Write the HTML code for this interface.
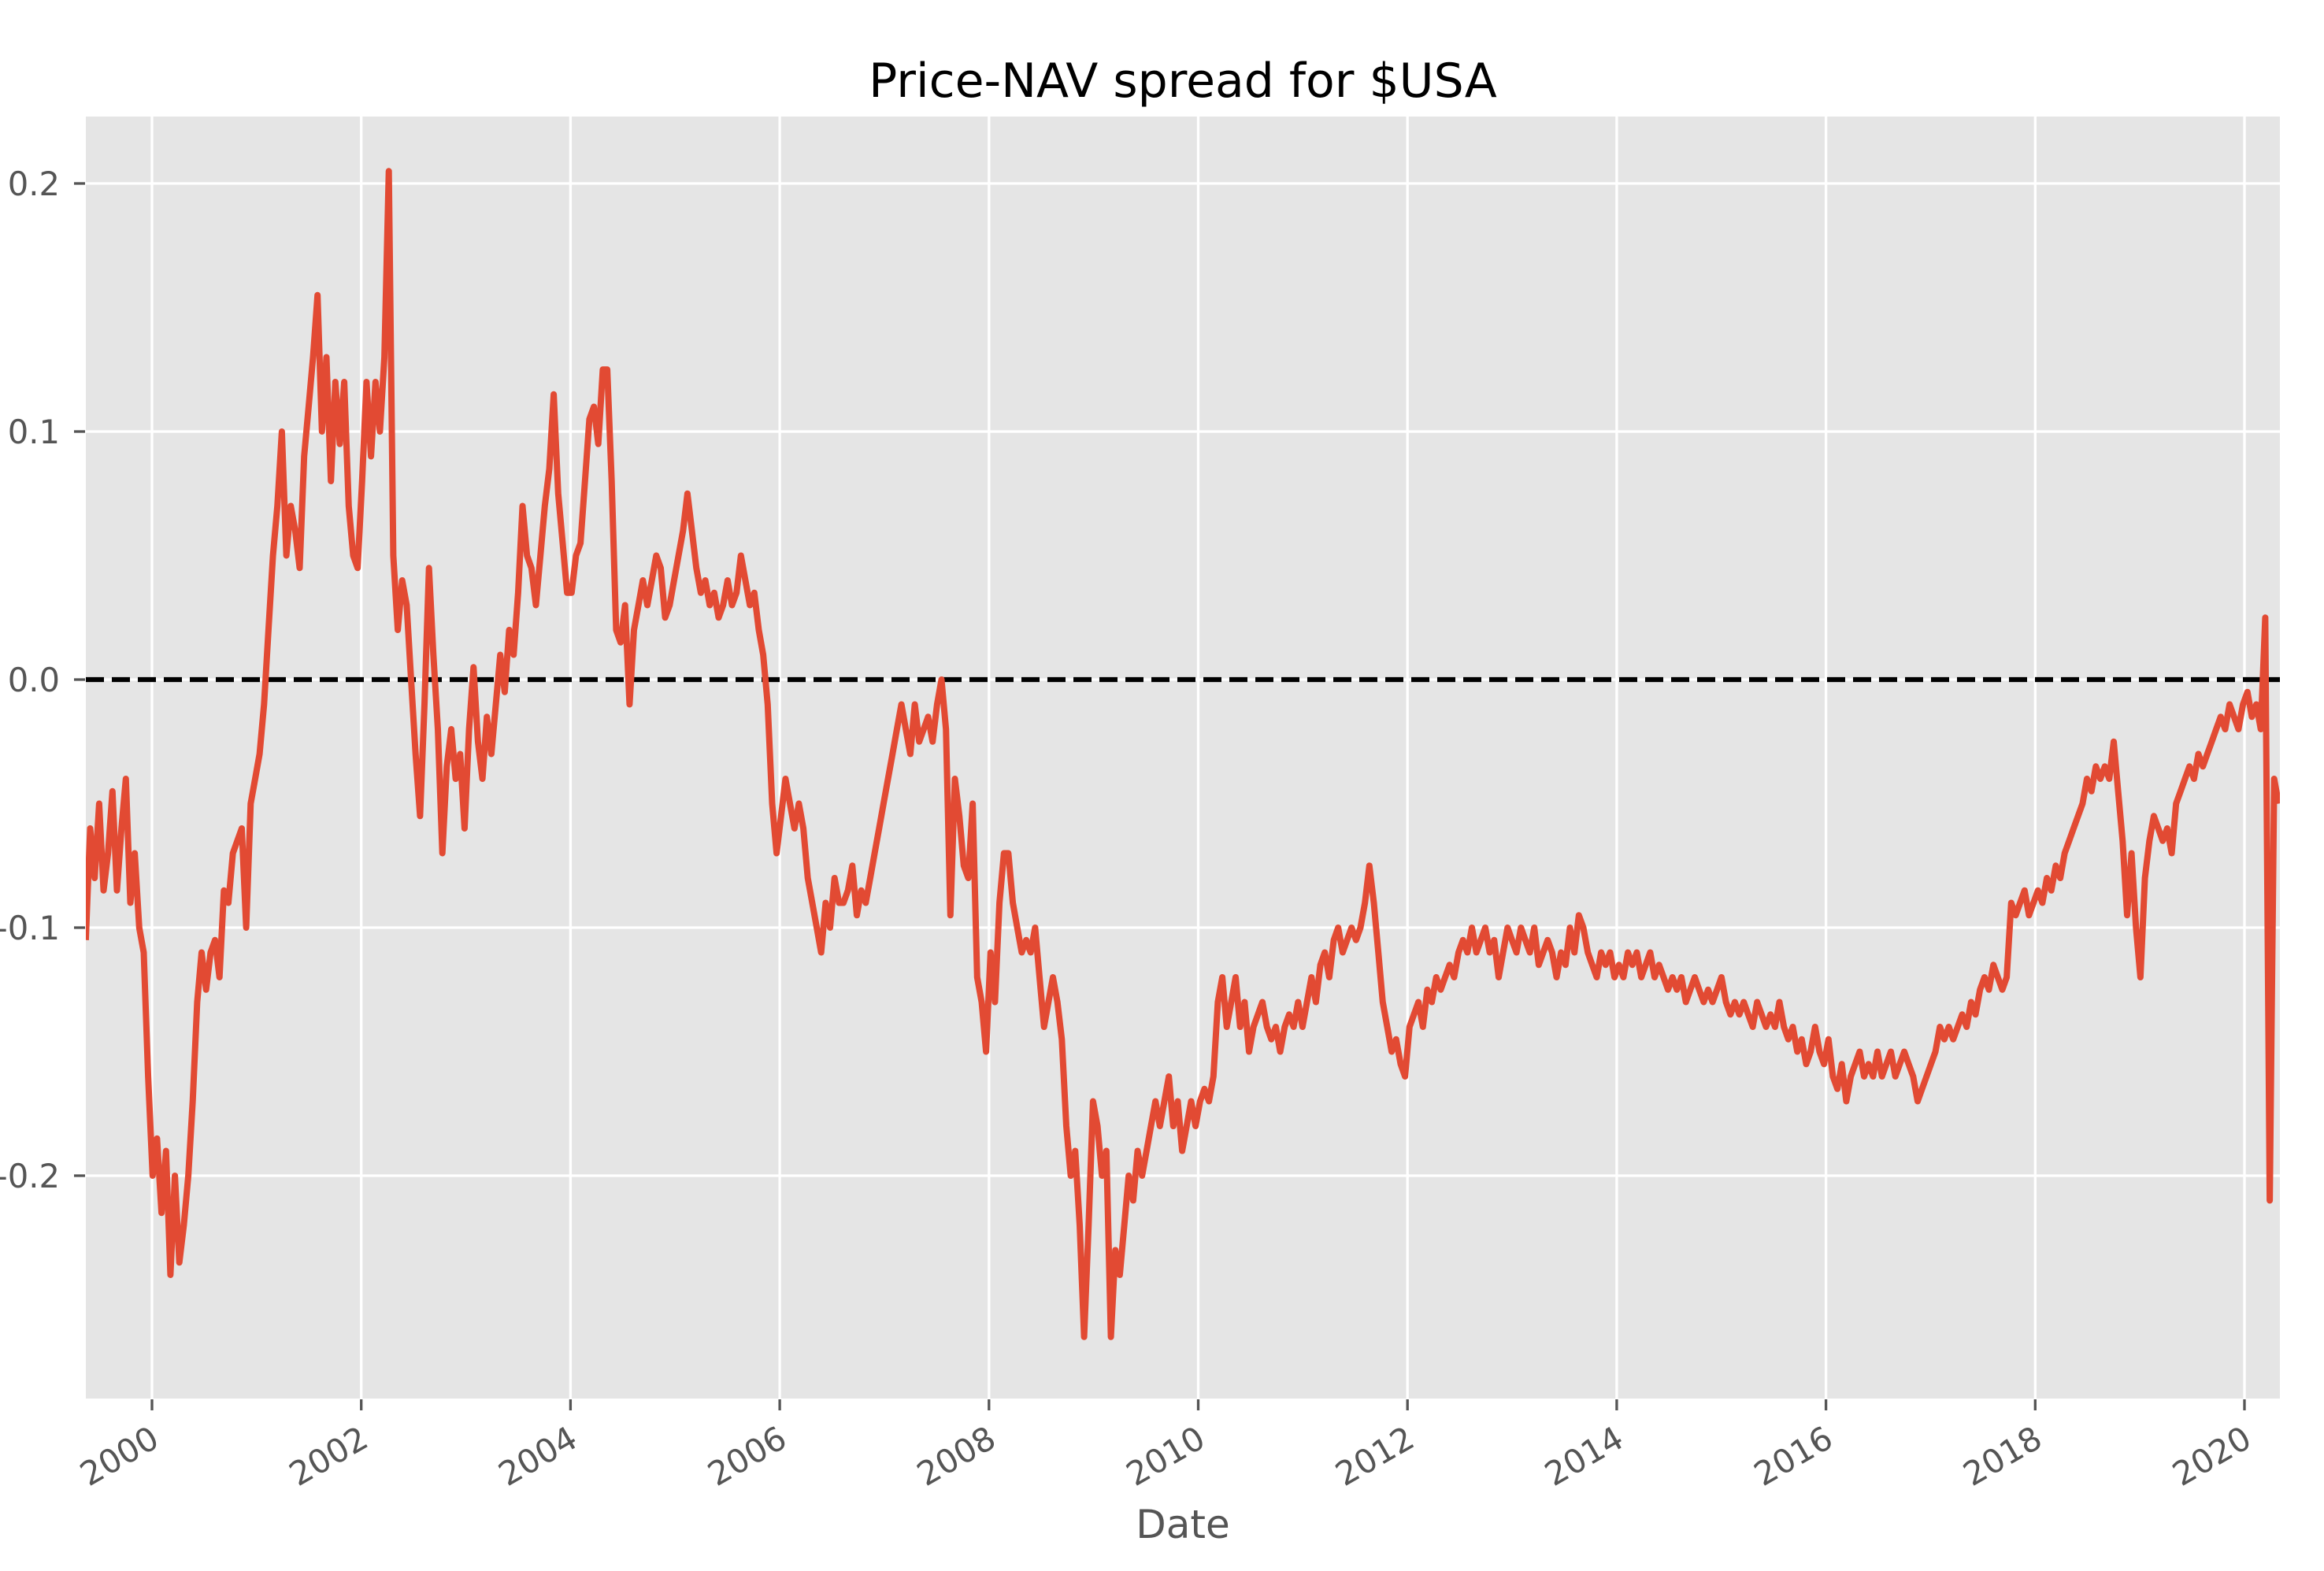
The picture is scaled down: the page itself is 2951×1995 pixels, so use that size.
<!DOCTYPE html>
<html><head><meta charset="utf-8"><style>
html,body{margin:0;padding:0;background:#fff;}
svg{display:block;font-family:"DejaVu Sans","Liberation Sans",sans-serif;}
</style></head><body>
<svg id="chart" width="2951" height="1995" viewBox="0 0 2951 1995" xmlns="http://www.w3.org/2000/svg">
<rect x="109" y="148" width="2786" height="1628" fill="#E5E5E5"/>
<g id="grid"></g>
<g id="ticks"></g>
<line id="zero" stroke="#000" stroke-width="6.25" stroke-dasharray="23,10"/>
<clipPath id="clip"><rect x="109" y="148" width="2786" height="1628"/></clipPath>
<path id="series" fill="none" stroke="#E24A33" stroke-width="8" stroke-linejoin="round" clip-path="url(#clip)"/>
<text x="1502" y="123" font-size="60" text-anchor="middle" fill="#000">Price-NAV spread for $USA</text>
<text x="1502" y="1953" font-size="50" text-anchor="middle" fill="#555">Date</text>
</svg>
<script>
const startDate = "1999-05-15";
const stepDays = 15.56;
const yTicks = [-0.2, -0.1, 0.0, 0.1, 0.2];
const yTickLabels = ["-0.2", "-0.1", "0.0", "0.1", "0.2"];
const xTicks = [2000, 2002, 2004, 2006, 2008, 2010, 2012, 2014, 2016, 2018, 2020];
const xTickLabels = ["2000", "2002", "2004", "2006", "2008", "2010", "2012", "2014", "2016", "2018", "2020"];
const spread = [
-0.105,-0.06,-0.08,-0.05,-0.085,-0.07,-0.045,-0.085,-0.06,-0.04,
-0.09,-0.07,-0.1,-0.11,-0.16,-0.2,-0.185,-0.215,-0.19,-0.24,
-0.2,-0.235,-0.22,-0.2,-0.17,-0.13,-0.11,-0.125,-0.11,-0.105,
-0.12,-0.085,-0.09,-0.07,-0.065,-0.06,-0.1,-0.05,-0.04,-0.03,
-0.01,0.02,0.05,0.07,0.1,0.05,0.07,0.06,0.045,0.09,
0.11,0.13,0.155,0.1,0.13,0.08,0.12,0.095,0.12,0.07,
0.05,0.045,0.08,0.12,0.09,0.12,0.1,0.13,
0.205,0.05,0.02,0.04,0.03,0.0,-0.03,-0.055,-0.01,0.045,0.01,-0.02,-0.07,-0.035,-0.02,-0.04,-0.03,-0.06,-0.02,0.005,-0.025,-0.04,-0.015,-0.03,-0.01,0.01,-0.005,0.02,0.01,0.035,0.07,0.05,0.045,0.03,0.05,0.07,0.085,0.115,0.075,0.055,0.035,0.035,0.05,0.055,0.08,0.105,0.11,0.095,0.125,0.125,0.08,0.02,0.015,0.03,-0.01,0.02,
0.03,0.04,0.03,0.04,0.05,0.045,0.025,0.03,0.04,0.05,0.06,0.075,0.06,0.045,0.035,0.04,0.03,0.035,0.025,0.03,0.04,0.03,0.035,0.05,0.04,0.03,0.035,0.02,0.01,-0.01,
-0.05,-0.07,-0.055,-0.04,-0.05,-0.06,-0.05,-0.06,-0.08,-0.09,-0.1,-0.11,-0.09,-0.1,-0.08,-0.09,-0.09,-0.085,-0.075,-0.095,-0.085,-0.09,-0.08,-0.07,-0.06,-0.05,-0.04,-0.03,-0.02,-0.01,-0.02,-0.03,-0.01,-0.025,-0.02,-0.015,-0.025,-0.01,0.0,-0.02,-0.095,-0.04,-0.055,-0.075,-0.08,-0.05,-0.12,-0.13,-0.15,-0.11,-0.13,-0.09,-0.07,-0.07,-0.09,-0.1,-0.11,-0.105,-0.11,-0.1,-0.12,-0.14,-0.13,-0.12,-0.13,-0.145,-0.18,-0.2,-0.19,-0.22,-0.265,-0.22,-0.17,-0.18,-0.2,-0.19,-0.265,-0.23,-0.24,-0.22,-0.2,-0.21,-0.19,-0.2,-0.19,-0.18,-0.17,-0.18,-0.17,-0.16,-0.18,-0.17,-0.19,-0.18,-0.17,-0.18,-0.17,-0.165,-0.17,-0.16,-0.13,-0.12,
-0.14,-0.13,-0.12,-0.14,-0.13,-0.15,-0.14,-0.135,-0.13,-0.14,-0.145,-0.14,-0.15,-0.14,-0.135,-0.14,-0.13,-0.14,-0.13,-0.12,-0.13,-0.115,-0.11,-0.12,-0.105,-0.1,-0.11,-0.105,-0.1,-0.105,-0.1,-0.09,-0.075,-0.09,-0.11,-0.13,-0.14,-0.15,-0.145,-0.155,-0.16,-0.14,
-0.135,-0.13,-0.14,-0.125,-0.13,-0.12,-0.125,-0.12,-0.115,-0.12,-0.11,-0.105,-0.11,-0.1,-0.11,-0.105,-0.1,-0.11,-0.105,-0.12,-0.11,-0.1,-0.105,-0.11,-0.1,-0.105,-0.11,-0.1,-0.115,-0.11,-0.105,-0.11,-0.12,-0.11,-0.115,-0.1,-0.11,-0.095,-0.1,-0.11,-0.115,-0.12,-0.11,-0.115,-0.11,-0.12,-0.115,-0.12,-0.11,-0.115,-0.11,-0.12,-0.115,-0.11,-0.12,-0.115,-0.12,-0.125,-0.12,-0.125,-0.12,-0.13,-0.125,-0.12,-0.125,-0.13,-0.125,-0.13,-0.125,-0.12,-0.13,-0.135,-0.13,-0.135,-0.13,-0.135,-0.14,-0.13,-0.135,-0.14,-0.135,-0.14,-0.13,-0.14,-0.145,-0.14,-0.15,-0.145,-0.155,-0.15,-0.14,-0.15,-0.155,-0.145,-0.16,-0.165,-0.155,-0.17,-0.16,-0.155,-0.15,-0.16,-0.155,-0.16,-0.15,-0.16,-0.155,-0.15,-0.16,-0.155,-0.15,-0.155,-0.16,-0.17,-0.165,-0.16,-0.155,-0.15,-0.14,-0.145,-0.14,-0.145,-0.14,-0.135,-0.14,-0.13,-0.135,-0.125,-0.12,-0.125,-0.115,-0.12,-0.125,-0.12,-0.09,-0.095,-0.09,-0.085,-0.095,-0.09,-0.085,-0.09,-0.08,-0.085,-0.075,-0.08,-0.07,-0.065,-0.06,-0.055,-0.05,-0.04,-0.045,-0.035,-0.04,-0.035,-0.04,-0.025,-0.045,-0.065,-0.095,
-0.07,-0.1,-0.12,-0.08,-0.065,-0.055,-0.06,-0.065,-0.06,-0.07,-0.05,-0.045,-0.04,-0.035,-0.04,-0.03,-0.035,-0.03,-0.025,-0.02,-0.015,-0.02,-0.01,-0.015,-0.02,-0.01,-0.005,-0.015,-0.01,-0.02,
0.025,-0.21,-0.04,-0.05
];

const NS = "http://www.w3.org/2000/svg";
const L = 109, R = 2895, T = 148, B = 1776;
function xScale(yr) { return 193 + (yr - 2000) * 132.85; }
function yScale(v) { return 863 - v * 3150; }
const start = new Date(startDate + "T00:00:00Z");
const startYear = start.getUTCFullYear() + (start - Date.UTC(start.getUTCFullYear(), 0, 1)) / (365.25 * 86400000);

const grid = document.getElementById('grid');
const ticks = document.getElementById('ticks');

yTicks.forEach((v, i) => {
  const y = yScale(v);
  const g = document.createElementNS(NS, 'line');
  
  
  g.setAttribute('x1', L); g.setAttribute('x2', R); g.setAttribute('y1', y); g.setAttribute('y2', y);
  g.setAttribute('stroke', '#fff'); g.setAttribute('stroke-width', '3.3');
  grid.appendChild(g);
  const t = document.createElementNS(NS, 'line');
  
  
  t.setAttribute('x1', L - 15); t.setAttribute('x2', L - 1); t.setAttribute('y1', y); t.setAttribute('y2', y);
  t.setAttribute('stroke', '#555'); t.setAttribute('stroke-width', '3.3');
  ticks.appendChild(t);
  const lb = document.createElementNS(NS, 'text');
  
  
  lb.setAttribute('x', 76); lb.setAttribute('y', y + 15);
  lb.setAttribute('font-size', '41.7'); lb.setAttribute('text-anchor', 'end'); lb.setAttribute('fill', '#555');
  lb.textContent = yTickLabels[i];
  ticks.appendChild(lb);
});

xTicks.forEach((yr, i) => {
  const x = xScale(yr);
  const g = document.createElementNS(NS, 'line');
  
  
  g.setAttribute('x1', x); g.setAttribute('x2', x); g.setAttribute('y1', T); g.setAttribute('y2', B);
  g.setAttribute('stroke', '#fff'); g.setAttribute('stroke-width', '3.3');
  grid.appendChild(g);
  const t = document.createElementNS(NS, 'line');
  
  
  t.setAttribute('x1', x); t.setAttribute('x2', x); t.setAttribute('y1', B + 1); t.setAttribute('y2', B + 15);
  t.setAttribute('stroke', '#555'); t.setAttribute('stroke-width', '3.3');
  ticks.appendChild(t);
  const lb = document.createElementNS(NS, 'text');
  
  
  const ax = x - 4, ay = B + 32;
  lb.setAttribute('x', ax); lb.setAttribute('y', ay);
  lb.setAttribute('font-size', '41.7'); lb.setAttribute('text-anchor', 'end'); lb.setAttribute('fill', '#555');
  lb.setAttribute('dominant-baseline', 'hanging');
  lb.setAttribute('transform', 'rotate(-30 ' + ax + ' ' + ay + ')');
  lb.textContent = xTickLabels[i];
  ticks.appendChild(lb);
});

const z = document.getElementById('zero');
z.setAttribute('x1', L); z.setAttribute('x2', R);
z.setAttribute('y1', yScale(0)); z.setAttribute('y2', yScale(0));

let d = '';
spread.forEach((v, i) => {
  const yr = startYear + i * stepDays / 365.25;
  d += (i ? 'L' : 'M') + xScale(yr).toFixed(1) + ' ' + yScale(v).toFixed(1);
});
document.getElementById('series').setAttribute('d', d);
</script>
</body></html>
